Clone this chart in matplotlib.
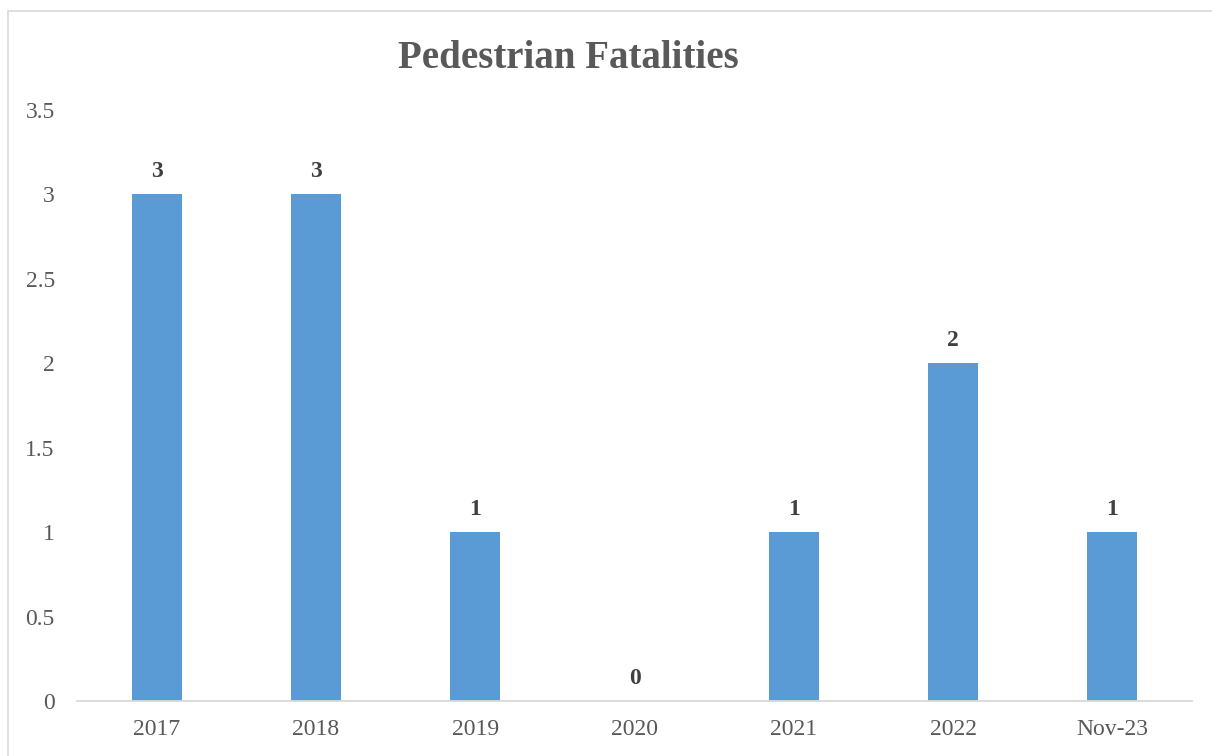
import matplotlib
matplotlib.use("Agg")
import matplotlib.pyplot as plt
from matplotlib.patches import Rectangle

categories = ["2017", "2018", "2019", "2020", "2021", "2022", "Nov-23"]
values = [3, 3, 1, 0, 1, 2, 1]
yticks = [0, 0.5, 1, 1.5, 2, 2.5, 3, 3.5]
ytick_labels = ["0", "0.5", "1", "1.5", "2", "2.5", "3", "3.5"]

plt.rcParams['font.family'] = ['Liberation Serif', 'DejaVu Serif']

W, H = 1212, 756
fig = plt.figure(figsize=(W / 100, H / 100), dpi=100)
fig.patch.set_facecolor("white")

# chart border (extends beyond image on right/bottom)
fig.patches.append(Rectangle((8 / W, -0.1), 1.2, 1 - 11 / H + 0.1, transform=fig.transFigure,
                             fill=False, edgecolor="#d9d9d9", linewidth=1.2))

ax = fig.add_axes([77 / W, 1 - 701 / H, (1192 - 77) / W, (701 - 110) / H])
x = list(range(len(categories)))
ax.bar(x, values, width=0.314, color="#5b9bd5")
ax.set_xlim(-0.5, len(categories) - 0.5)
ax.set_ylim(0, 3.5)
ax.set_yticks(yticks)
ax.set_yticklabels(ytick_labels)
ax.set_xticks(x)
ax.set_xticklabels(categories)
for s in ["top", "right", "left"]:
    ax.spines[s].set_visible(False)
ax.spines["bottom"].set_color("#d9d9d9")
ax.spines["bottom"].set_linewidth(1.3)
ax.tick_params(axis="both", length=0, labelsize=17, colors="#595959")
ax.tick_params(axis="y", pad=16)
ax.tick_params(axis="x", pad=13)

for xi, v in zip(x, values):
    ax.annotate(str(v), (xi, v), xytext=(0, 9), textcoords="offset points",
                ha="center", va="bottom", fontsize=17, fontweight="bold", color="#404040")

fig.text(568 / W, 1 - 59 / H, "Pedestrian Fatalities", ha="center", va="center",
         fontsize=28, fontweight="bold", color="#595959")

fig.savefig("out.png", dpi=100)
